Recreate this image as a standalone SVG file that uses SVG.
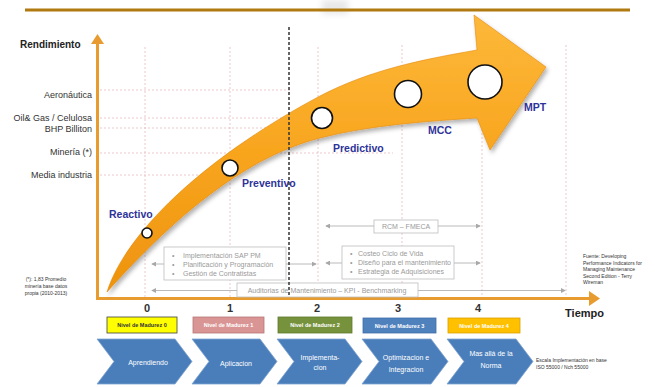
<svg xmlns="http://www.w3.org/2000/svg" width="655" height="387" viewBox="0 0 655 387">
<defs>
<style>
text{font-family:"Liberation Sans",Arial,sans-serif}
.gl{stroke:#E8B9BE;stroke-width:0.8;stroke-dasharray:2 2;fill:none}
.ax{stroke:#E89B2E;stroke-width:3;fill:none}
.yl{font-size:9px;fill:#333;text-anchor:end}
.bl{font-size:10.5px;font-weight:bold;fill:#2E3399}
.tk{font-size:11px;font-weight:bold;fill:#333;text-anchor:middle}
.gb{fill:#fff;stroke:#BDBDBD;stroke-width:0.8}
.gt{font-size:7px;fill:#9A9A9A}
.cl{stroke:#A8A8A8;stroke-width:0.8;fill:none;marker-start:url(#ga);marker-end:url(#ga)}
.ch{fill:#4A7EBB;stroke:#7FA3D0;stroke-width:0.8}
.ct{font-size:7px;fill:#fff;text-anchor:middle}
.mt{font-size:5.5px;font-weight:bold;text-anchor:middle;fill:#fff}
.sm{font-size:5px;fill:#333}
.cir{fill:#fff;stroke:#111;stroke-width:1.6}
</style>
<marker id="ga" viewBox="0 0 6 6" refX="5" refY="3" markerWidth="5" markerHeight="5" orient="auto-start-reverse" markerUnits="userSpaceOnUse">
<path d="M0,0 L6,3 L0,6 z" fill="#A8A8A8"/>
</marker>
<linearGradient id="og" x1="0" y1="0" x2="0" y2="1">
<stop offset="0" stop-color="#FDB83A"/>
<stop offset="0.5" stop-color="#F8A51E"/>
<stop offset="1" stop-color="#EE930E"/>
</linearGradient>
<filter id="sh" x="-10%" y="-10%" width="130%" height="130%">
<feDropShadow dx="2" dy="3" stdDeviation="2" flood-color="#000" flood-opacity="0.3"/>
</filter>
<filter id="bl" x="-50%" y="-50%" width="200%" height="200%">
<feGaussianBlur stdDeviation="3"/>
</filter>
</defs>

<rect width="655" height="387" fill="#fff"/>
<rect x="322" y="0" width="26" height="14" fill="#D8D8D8" opacity="0.6" filter="url(#bl)"/>
<line x1="25" y1="10" x2="630" y2="10" stroke="#B07A10" stroke-width="3"/>

<g id="grid">
<line class="gl" x1="145" y1="47" x2="145" y2="297"/>
<line class="gl" x1="230" y1="47" x2="230" y2="297"/>
<line class="gl" x1="318" y1="47" x2="318" y2="297"/>
<line class="gl" x1="402" y1="45" x2="402" y2="297"/>
<line class="gl" x1="482" y1="45" x2="482" y2="297"/>
<line class="gl" x1="566" y1="45" x2="566" y2="297"/>
<line class="gl" x1="100" y1="90" x2="290" y2="90"/>
<line class="gl" x1="100" y1="118" x2="290" y2="118"/>
<line class="gl" x1="100" y1="128" x2="290" y2="128"/>
<line class="gl" x1="100" y1="153" x2="393" y2="153"/>
<line class="gl" x1="100" y1="175" x2="240" y2="175"/>
</g>

<g id="axes">
<line class="ax" x1="97.5" y1="299" x2="97.5" y2="42"/>
<path d="M91,44 L104,44 L97.5,34 z" fill="#E89B2E"/>
<line class="ax" x1="96" y1="298.5" x2="590" y2="298.5"/>
<path d="M589,291 L600,298.5 L589,306 z" fill="#E89B2E"/>
<text x="20" y="48" font-size="10" font-weight="bold" fill="#222">Rendimiento</text>
<text x="604" y="317" font-size="11" font-weight="bold" fill="#222" text-anchor="end">Tiempo</text>
<text class="yl" x="92" y="98">Aeronáutica</text>
<text class="yl" x="92" y="121">Oil&amp; Gas / Celulosa</text>
<text class="yl" x="92" y="132">BHP Billiton</text>
<text class="yl" x="92" y="155">Minería (*)</text>
<text class="yl" x="92" y="178">Media industria</text>
<text class="tk" x="147" y="312">0</text>
<text class="tk" x="230" y="312">1</text>
<text class="tk" x="317" y="312">2</text>
<text class="tk" x="398" y="312">3</text>
<text class="tk" x="478" y="312">4</text>
</g>

<g id="connectors">
<line class="cl" x1="152" y1="264" x2="316" y2="264"/>
<line class="cl" x1="326" y1="263" x2="480" y2="263"/>
<line class="cl" x1="326" y1="226" x2="480" y2="226"/>
<line class="cl" x1="152" y1="290.5" x2="565" y2="290.5"/>
</g>

<g id="growth-arrow">
<path filter="url(#sh)" fill="url(#og)" stroke="#E48A0C" stroke-width="0.6" d="M107,292 C125,235 200,160 320,96 C370,70 420,60 477,50 L474,15 L546,67 L490,150 L477,118 C430,121 370,125 320,138 C250,156 180,210 107,292 Z"/>
<circle class="cir" cx="147" cy="233" r="5"/>
<circle class="cir" cx="230" cy="168" r="8"/>
<circle class="cir" cx="322" cy="118" r="10.5"/>
<circle class="cir" cx="408" cy="94" r="13.5"/>
<circle class="cir" cx="485" cy="82" r="17"/>
</g>

<g id="stage-labels">
<text class="bl" x="109" y="218">Reactivo</text>
<text class="bl" x="242" y="187">Preventivo</text>
<text class="bl" x="333" y="152">Predictivo</text>
<text class="bl" x="428" y="134">MCC</text>
<text class="bl" x="524" y="111">MPT</text>
</g>

<g id="box-sap">
<rect class="gb" x="164" y="247" width="122" height="33"/>
<text class="gt" x="172" y="257.5">•</text>
<text class="gt" x="172" y="266.5">•</text>
<text class="gt" x="172" y="275.5">•</text>
<text class="gt" x="183" y="257.5">Implementación  SAP PM</text>
<text class="gt" x="183" y="266.5">Planificación  y Programación</text>
<text class="gt" x="183" y="275.5">Gestión de Contratistas</text>
</g>

<g id="box-rcm">
<rect class="gb" x="374" y="220" width="64" height="13"/>
<text class="gt" x="406" y="229" text-anchor="middle">RCM – FMECA</text>
</g>

<g id="box-costeo">
<rect class="gb" x="342" y="246" width="112" height="33"/>
<text class="gt" x="350" y="255.5">•</text>
<text class="gt" x="350" y="264.5">•</text>
<text class="gt" x="350" y="273.5">•</text>
<text class="gt" x="358" y="255.5">Costeo Ciclo de Vida</text>
<text class="gt" x="358" y="264.5">Diseño para el mantenimiento</text>
<text class="gt" x="358" y="273.5">Estrategia de Adquisiciones</text>
</g>

<g id="box-auditorias">
<rect class="gb" x="237" y="283" width="181" height="14"/>
<text class="gt" x="327" y="293" text-anchor="middle">Auditorias de Mantenimiento  – KPI - Benchmarking</text>
</g>

<g id="divider">
<line x1="289" y1="27" x2="289" y2="297" stroke="#333" stroke-width="1.5" stroke-dasharray="3 2"/>
</g>

<g id="notes">
<text class="sm" x="46" y="281" text-anchor="middle" font-size="6">(*): 1,83 Promedio</text>
<text class="sm" x="46" y="288" text-anchor="middle" font-size="6">minería  base datos</text>
<text class="sm" x="46" y="295" text-anchor="middle" font-size="6">propia (2010-2013)</text>
<text class="sm" x="583" y="258">Fuente: Developing</text>
<text class="sm" x="583" y="264.5">Performance Indicators for</text>
<text class="sm" x="583" y="271">Managing Maintenance</text>
<text class="sm" x="583" y="277.5">Second Edition - Terry</text>
<text class="sm" x="583" y="284">Wireman</text>
<text class="sm" x="536" y="362">Escala Implementación en base</text>
<text class="sm" x="536" y="369">ISO 55000 / Nch 55000</text>
</g>

<g id="nivel-0">
<rect x="107" y="317" width="70" height="16" fill="#FFFF00" stroke="#404040" stroke-width="0.8"/>
<text class="mt" x="142" y="327" style="fill:#333">Nivel de Madurez 0</text>
</g>
<g id="nivel-1">
<rect x="193" y="317" width="71" height="16" fill="#D99594" stroke="#B87776" stroke-width="0.8"/>
<text class="mt" x="228.5" y="327">Nivel de Madurez 1</text>
</g>
<g id="nivel-2">
<rect x="278" y="317" width="74" height="16" fill="#76923C" stroke="#5E7A2C" stroke-width="0.8"/>
<text class="mt" x="315" y="327">Nivel de Madurez 2</text>
</g>
<g id="nivel-3">
<rect x="363" y="318" width="73" height="15" fill="#4F81BD" stroke="#3F6FA8" stroke-width="0.8"/>
<text class="mt" x="399.5" y="327.5">Nivel de Madurez 3</text>
</g>
<g id="nivel-4">
<rect x="448" y="318" width="72" height="15" fill="#FFC000" stroke="#D9A200" stroke-width="0.8"/>
<text class="mt" x="484" y="327.5">Nivel de Madurez 4</text>
</g>

<g id="fase-aprendiendo">
<path class="ch" d="M97,339 L175,339 L192,361.5 L175,384 L97,384 L114,361.5 Z"/>
<text class="ct" x="148" y="364.5">Aprendiendo</text>
</g>
<g id="fase-aplicacion">
<path class="ch" d="M192,339 L260,339 L277,361.5 L260,384 L192,384 L209,361.5 Z"/>
<text class="ct" x="236" y="366">Aplicacion</text>
</g>
<g id="fase-implementacion">
<path class="ch" d="M277,339 L345,339 L362,361.5 L345,384 L277,384 L294,361.5 Z"/>
<text class="ct" x="320" y="359.5">Implementa-</text>
<text class="ct" x="320" y="370">cion</text>
</g>
<g id="fase-optimizacion">
<path class="ch" d="M362,339 L431,339 L448,361.5 L431,384 L362,384 L379,361.5 Z"/>
<text class="ct" x="406" y="359.5">Optimizacion  e</text>
<text class="ct" x="406" y="371.5">Integracion</text>
</g>
<g id="fase-norma">
<path class="ch" d="M447,339 L516,339 L533,361.5 L516,384 L447,384 L464,361.5 Z"/>
<text class="ct" x="491" y="355.5">Mas allá de la</text>
<text class="ct" x="491" y="367.5">Norma</text>
</g>
</svg>
